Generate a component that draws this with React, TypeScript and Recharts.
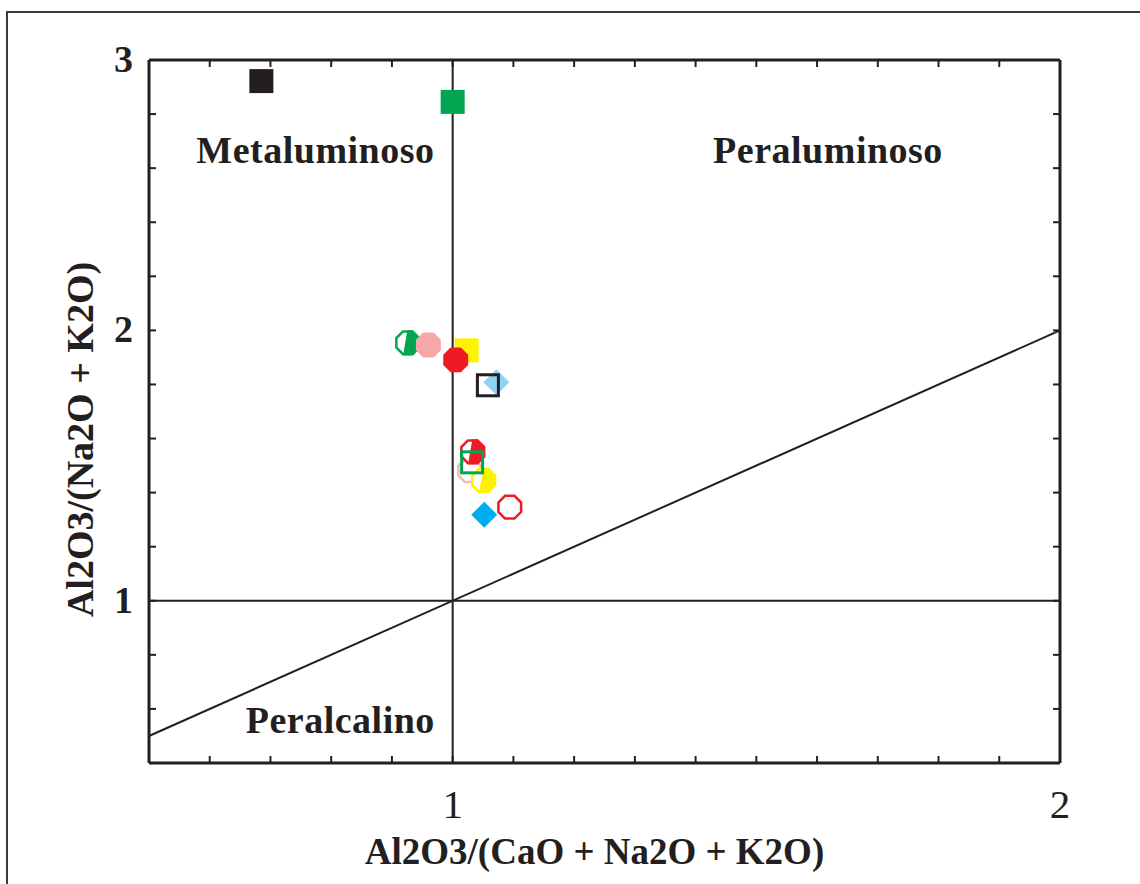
import React from 'react';
import { ScatterChart, Scatter, XAxis, YAxis, ReferenceLine } from 'recharts';

// ---- data ----
const xTicks = [0.6, 0.7, 0.8, 0.9, 1, 1.1, 1.2, 1.3, 1.4, 1.5, 1.6, 1.7, 1.8, 1.9, 2];
const xTickLabels = [1, 2];
const yTicks = [0.6, 0.8, 1, 1.2, 1.4, 1.6, 1.8, 2, 2.2, 2.4, 2.6, 2.8, 3];
const yTickLabels = [1, 2, 3];

const sampleX = [0.685, 1.0, 0.926, 0.96, 1.023, 1.005, 1.072, 1.058, 1.028, 1.033, 1.051, 1.032, 1.052, 1.094];
const sampleY = [2.922, 2.845, 1.954, 1.946, 1.926, 1.891, 1.808, 1.797, 1.481, 1.551, 1.445, 1.512, 1.318, 1.346];

const regionNames = ['Metaluminoso', 'Peraluminoso', 'Peralcalino'];
const regionX = [0.774, 1.618, 0.815];
const regionY = [2.619, 2.619, 0.512];

const boundaryLine = [{ x: 0.5, y: 0.5 }, { x: 2, y: 2 }];
const xTitle = 'Al2O3/(CaO + Na2O + K2O)';
const yTitle = 'Al2O3/(Na2O + K2O)';

// ---- styles ----
const INK = '#231f20';
const FONT = '"Liberation Serif", "Times New Roman", serif';
const markerStyles = [
  { kind: 'square', color: INK },
  { kind: 'square', color: '#00a651' },
  { kind: 'halfOct', color: '#00a651' },
  { kind: 'oct', color: '#f6a8a8' },
  { kind: 'square', color: '#fff200' },
  { kind: 'oct', color: '#ed1c24' },
  { kind: 'diamond', color: '#8cd3f4' },
  { kind: 'openSquare', color: INK },
  { kind: 'openOct', color: '#f6b8b8' },
  { kind: 'halfOct', color: '#ed1c24' },
  { kind: 'halfOct', color: '#fff200' },
  { kind: 'openSquare', color: '#00a651' },
  { kind: 'diamond', color: '#00aeef' },
  { kind: 'openOct', color: '#ed1c24' },
];

const octPoints = (cx: number, cy: number, R: number) =>
  Array.from({ length: 8 }, (_, k) => {
    const a = ((22.5 + 45 * k) * Math.PI) / 180;
    return `${cx + R * Math.cos(a)},${cy + R * Math.sin(a)}`;
  }).join(' ');

const makeShape = (idx: number) => (props: any) => {
  const { cx, cy } = props;
  if (cx == null || cy == null) return <g />;
  const st = markerStyles[idx];
  const c = st.color;
  switch (st.kind) {
    case 'square':
      return <rect x={cx - 12} y={cy - 12} width={24} height={24} fill={c} />;
    case 'openSquare':
      return <rect x={cx - 10.5} y={cy - 10.5} width={21} height={21} fill="none" stroke={c} strokeWidth={3} />;
    case 'oct':
      return <polygon points={octPoints(cx, cy, 13.5)} fill={c} />;
    case 'openOct':
      return <polygon points={octPoints(cx, cy, 12.3)} fill="none" stroke={c} strokeWidth={2.5} />;
    case 'diamond':
      return (
        <polygon
          points={`${cx},${cy - 13} ${cx + 13},${cy} ${cx},${cy + 13} ${cx - 13},${cy}`}
          fill={c}
        />
      );
    case 'halfOct': {
      const id = `half-clip-${idx}`;
      return (
        <g>
          <defs>
            <clipPath id={id}>
              <polygon points={`${cx + 1},${cy - 20} ${cx + 20},${cy - 20} ${cx + 20},${cy + 20} ${cx - 6},${cy + 20}`} />
            </clipPath>
          </defs>
          <polygon points={octPoints(cx, cy, 12.3)} fill="#fff" stroke={c} strokeWidth={2.5} />
          <polygon points={octPoints(cx, cy, 13.5)} fill={c} clipPath={`url(#${id})`} />
        </g>
      );
    }
    default:
      return <g />;
  }
};

const regionShape = (props: any) => {
  const { cx, cy, payload } = props;
  if (cx == null || cy == null) return <g />;
  return (
    <text x={cx} y={cy} textAnchor="middle" fontFamily={FONT} fontWeight="bold" fontSize={38} letterSpacing={0.5} fill={INK}>
      {payload.name}
    </text>
  );
};

const TICK_LEN = 7;

const BottomTick = (props: any) => {
  const { x, y, payload } = props;
  const v = payload.value;
  return (
    <g>
      <line x1={x} y1={y} x2={x} y2={y - TICK_LEN} stroke={INK} strokeWidth={2} />
      {xTickLabels.includes(v) && (
        <text x={x} y={y + 55} textAnchor="middle" fontFamily={FONT} fontSize={41} fill={INK}>
          {v}
        </text>
      )}
    </g>
  );
};
const TopTick = (props: any) => {
  const { x, y } = props;
  return <line x1={x} y1={y} x2={x} y2={y + TICK_LEN} stroke={INK} strokeWidth={2} />;
};
const LeftTick = (props: any) => {
  const { x, y, payload } = props;
  const v = payload.value;
  return (
    <g>
      <line x1={x} y1={y} x2={x + TICK_LEN} y2={y} stroke={INK} strokeWidth={2} />
      {yTickLabels.includes(v) && (
        <text x={x - 16} y={y + 12} textAnchor="end" fontFamily={FONT} fontWeight="bold" fontSize={38} fill={INK}>
          {v}
        </text>
      )}
    </g>
  );
};
const RightTick = (props: any) => {
  const { x, y } = props;
  return <line x1={x} y1={y} x2={x - TICK_LEN} y2={y} stroke={INK} strokeWidth={2} />;
};

const XTitle = (props: any) => {
  const vb = props.viewBox || {};
  const cx = vb.x + vb.width / 2 - 10;
  return (
    <text x={cx} y={vb.y + 101} textAnchor="middle" fontFamily={FONT} fontWeight="bold" fontSize={37} fill={INK}>
      {xTitle}
    </text>
  );
};
const YTitle = (props: any) => {
  const vb = props.viewBox || {};
  const bx = 93;
  const cy = vb.y + vb.height / 2 + 28;
  return (
    <text x={bx} y={cy} transform={`rotate(-90, ${bx}, ${cy})`} textAnchor="middle" fontFamily={FONT} fontWeight="bold" fontSize={38} fill={INK}>
      {yTitle}
    </text>
  );
};

export default function App() {
  const samples = sampleX.map((x, i) => ({ x, y: sampleY[i] }));
  const regions = regionNames.map((name, i) => ({ name, x: regionX[i], y: regionY[i] }));
  return (
    <div style={{ position: 'fixed', left: 0, top: 0, width: 1140, height: 884, overflow: 'hidden', background: '#fff' }}>
      <div
        style={{
          position: 'absolute',
          left: 6,
          top: 11,
          width: 1300,
          height: 1100,
          border: '2px solid #3a3a3a',
          boxSizing: 'border-box',
        }}
      />
      <div style={{ position: 'absolute', left: 0, top: 0 }}>
        <ScatterChart width={1140} height={884} margin={{ top: 50, right: 70, bottom: 61, left: 89 }}>
          <XAxis
            xAxisId="bottom"
            type="number"
            dataKey="x"
            domain={[0.5, 2]}
            allowDataOverflow
            ticks={xTicks}
            interval={0}
            tickSize={0}
            tickMargin={0}
            tickLine={false}
            tick={<BottomTick />}
            height={60}
            orientation="bottom"
            axisLine={{ stroke: INK, strokeWidth: 3 }}
            label={<XTitle />}
          />
          <XAxis
            xAxisId="top"
            type="number"
            dataKey="x"
            domain={[0.5, 2]}
            allowDataOverflow
            ticks={xTicks}
            interval={0}
            tickSize={0}
            tickMargin={0}
            tickLine={false}
            tick={<TopTick />}
            height={10}
            orientation="top"
            axisLine={{ stroke: INK, strokeWidth: 3 }}
          />
          <YAxis
            yAxisId="left"
            type="number"
            dataKey="y"
            domain={[0.4, 3]}
            allowDataOverflow
            ticks={yTicks}
            interval={0}
            tickSize={0}
            tickMargin={0}
            tickLine={false}
            tick={<LeftTick />}
            width={60}
            orientation="left"
            axisLine={{ stroke: INK, strokeWidth: 3 }}
            label={<YTitle />}
          />
          <YAxis
            yAxisId="right"
            type="number"
            dataKey="y"
            domain={[0.4, 3]}
            allowDataOverflow
            ticks={yTicks}
            interval={0}
            tickSize={0}
            tickMargin={0}
            tickLine={false}
            tick={<RightTick />}
            width={10}
            orientation="right"
            axisLine={{ stroke: INK, strokeWidth: 3 }}
          />
          <ReferenceLine xAxisId="bottom" yAxisId="left" x={1} stroke={INK} strokeWidth={2} />
          <ReferenceLine xAxisId="bottom" yAxisId="left" y={1} stroke={INK} strokeWidth={2} />
          <ReferenceLine xAxisId="bottom" yAxisId="left" segment={boundaryLine} stroke={INK} strokeWidth={2} />
          <Scatter
            xAxisId="bottom"
            yAxisId="left"
            data={regions}
            shape={regionShape}
            isAnimationActive={false}
          />
          {samples.map((s, i) => (
            <Scatter
              key={i}
              xAxisId="bottom"
              yAxisId="left"
              data={[s]}
              shape={makeShape(i)}
              isAnimationActive={false}
            />
          ))}
        </ScatterChart>
      </div>
    </div>
  );
}
